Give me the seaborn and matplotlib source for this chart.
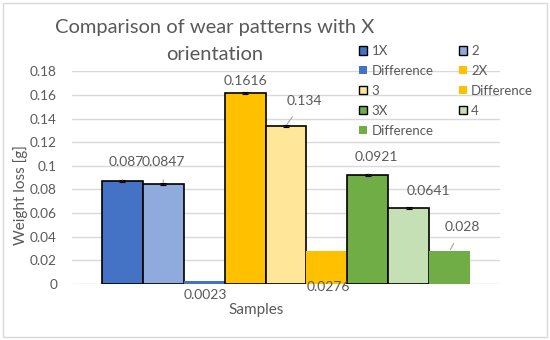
import matplotlib
matplotlib.use("Agg")
import matplotlib.pyplot as plt
import matplotlib.patches as mpatches
import seaborn as sns
import pandas as pd
import numpy as np

# ---- data ----
series_ids = ["1X", "2", "Diff A", "2X", "3", "Diff B", "3X", "4", "Diff C"]
legend_labels = ["1X", "2", "Difference", "2X", "3", "Difference", "3X", "4", "Difference"]
values = [0.087, 0.0847, 0.0023, 0.1616, 0.134, 0.0276, 0.0921, 0.0641, 0.028]
errors = [0.0008, 0.0008, 0.0, 0.0008, 0.0008, 0.0, 0.0008, 0.0008, 0.0]
value_labels = ["0.087", "0.0847", "0.0023", "0.1616", "0.134", "0.0276", "0.0921", "0.0641", "0.028"]
colors = ["#4472C4", "#8FAADC", "#4472C4", "#FFC000", "#FFE699", "#FFC000", "#70AD47", "#C5E0B4", "#70AD47"]
outlined = [True, True, False, True, True, False, True, True, False]
legend_outlined = [True, True, False, False, True, False, True, True, False]
yticks = [0, 0.02, 0.04, 0.06, 0.08, 0.1, 0.12, 0.14, 0.16, 0.18]
ytick_labels = ["0", "0.02", "0.04", "0.06", "0.08", "0.1", "0.12", "0.14", "0.16", "0.18"]
title_lines = ["Comparison of wear patterns with X", "orientation"]

# label offsets in pixels (dx, dy up) and whether leader line drawn
label_offsets = [(3.5, 19), (0, 21.6), (0.7, -13.7), (0, 12.5), (18, 25), (1, -35.7), (9, 18), (20, 17), (13, 24)]
leaders = [True, True, False, False, True, False, True, False, True]

sns.set_theme(style="white")
plt.rcParams["font.family"] = ["Lato", "DejaVu Sans"]
txt = "#595959"

df = pd.DataFrame({"series": series_ids, "value": values})

fig = plt.figure(figsize=(5.5, 3.4), dpi=100)
ax = fig.add_axes([72/550, (340-284)/340, 428/550, 213.3/340])

sns.barplot(data=df, x="series", y="value", hue="series", palette=colors,
            order=series_ids, hue_order=series_ids, width=1.0, dodge=False,
            legend=False, ax=ax, saturation=1, zorder=3)

for i, p in enumerate(ax.patches):
    if outlined[i]:
        p.set_edgecolor("black")
        p.set_linewidth(1.2)
    else:
        p.set_edgecolor("none")

xs = np.arange(len(values))
mask = np.array(errors) > 0
ax.errorbar(xs[mask], np.array(values)[mask], yerr=np.array(errors)[mask], fmt="none",
            ecolor="black", elinewidth=0.8, capsize=2.5, capthick=0.8, zorder=4)

px = 0.72  # points per pixel
for i, (v, lab) in enumerate(zip(values, value_labels)):
    dx, dy = label_offsets[i]
    ap = None
    if leaders[i]:
        ap = dict(arrowstyle="-", color="#A6A6A6", lw=0.8, shrinkA=6, shrinkB=1)
    ax.annotate(lab, xy=(i, v), xytext=(dx*px, dy*px), textcoords="offset points",
                ha="center", va="center", fontsize=10, color=txt,
                arrowprops=ap, zorder=5)

ax.set_xlim(4 - 5.23, 4 + 5.23)
ax.set_ylim(0, 0.1805)
ax.set_yticks(yticks)
ax.set_yticklabels(ytick_labels, color=txt, fontsize=9.8)
ax.set_xticks([])
ax.tick_params(axis="y", length=0, pad=10.8)
ax.yaxis.grid(True, color="#D9D9D9", lw=1)
ax.set_axisbelow(True)
for s in ax.spines.values():
    s.set_visible(False)
ax.set_xlabel("")
ax.set_ylabel("Weight loss [g]", color=txt, fontsize=11)
ax.yaxis.set_label_coords(-0.1028, 0.417)

fig.text(256/550, 1 - 310/340, "Samples", ha="center", va="center", color=txt, fontsize=11)
fig.text(215/550, 1 - 28/340, title_lines[0], ha="center", va="center", color=txt, fontsize=14.5)
fig.text(215/550, 1 - 55/340, title_lines[1], ha="center", va="center", color=txt, fontsize=14.5)

handles = []
for c, o in zip(colors, legend_outlined):
    handles.append(mpatches.Patch(facecolor=c, edgecolor="black" if o else c, lw=1.0 if o else 0))
order = [0, 2, 4, 6, 8, 1, 3, 5, 7]
leg = fig.legend([handles[k] for k in order], [legend_labels[k] for k in order], ncol=2,
                 loc="upper left", bbox_to_anchor=(359/550, 1 - 45/340), frameon=False,
                 fontsize=9.5, handlelength=0.6, handleheight=0.6, handletextpad=0.35,
                 columnspacing=1.9, labelspacing=0.6, borderaxespad=0, borderpad=0)
for t in leg.get_texts():
    t.set_color(txt)

fig.patches.append(mpatches.Rectangle((3/550, 3/340), 544/550, 334/340, transform=fig.transFigure,
                                      fill=False, edgecolor="#D9D9D9", lw=1))
fig.savefig("out.png", dpi=100)
